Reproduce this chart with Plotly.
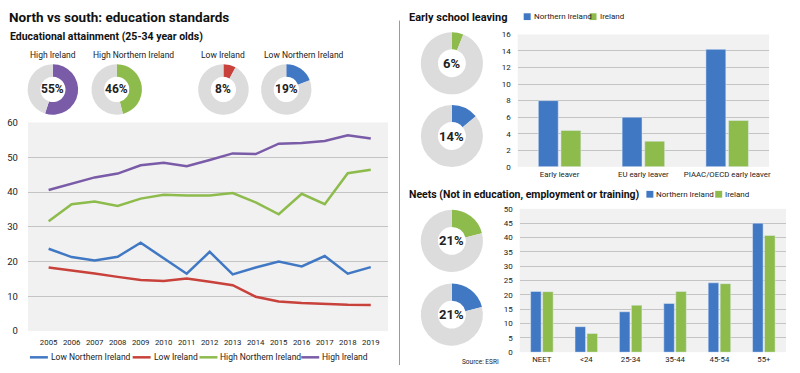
import plotly.graph_objects as go

FONT = "Roboto, sans-serif"
BLUE = "#4178c4"
GREEN = "#8dbb4c"
RED = "#c8413a"
PURPLE = "#7a5ba8"
GREY = "#dcdcdc"

# ---- data ----
years = list(range(2005, 2020))
low_ni = [23.7, 21.3, 20.3, 21.4, 25.4, 20.9, 16.5, 22.8, 16.3, 18.3, 20.0, 18.6, 21.6, 16.5, 18.4]
low_irl = [18.3, 17.5, 16.6, 15.6, 14.7, 14.4, 15.1, 14.2, 13.2, 9.9, 8.5, 8.1, 7.8, 7.6, 7.5]
high_ni = [31.6, 36.5, 37.3, 36.0, 38.1, 39.2, 39.0, 39.0, 39.7, 37.0, 33.6, 39.5, 36.5, 45.4, 46.4]
high_irl = [40.6, 42.3, 44.2, 45.3, 47.7, 48.4, 47.4, 49.2, 51.1, 50.9, 53.9, 54.1, 54.7, 56.3, 55.4]

donut_labels = ["High Ireland", "High Northern Ireland", "Low Ireland", "Low Northern Ireland"]
donut_values = [55, 46, 8, 19]

esl_cats = ["Early leaver", "EU early leaver", "PIAAC/OECD early leaver"]
esl_ni = [8.0, 6.0, 14.2]
esl_irl = [4.4, 3.1, 5.6]
esl_donuts = [6, 14]

neet_cats = ["NEET", "<24", "25-34", "35-44", "45-54", "55+"]
neet_ni = [21.2, 8.9, 14.1, 17.0, 24.2, 45.0]
neet_irl = [21.1, 6.5, 16.4, 21.2, 23.9, 40.7]
neet_donuts = [21, 21]

W, H = 800, 373


def px(x):
    return x / W


def py(y):
    return 1 - y / H


fig = go.Figure()
annotations = []
shapes = []

# ---- line chart ----
series = [("Low Northern Ireland", low_ni, BLUE), ("Low Ireland", low_irl, RED),
          ("High Northern Ireland", high_ni, GREEN), ("High Ireland", high_irl, PURPLE)]
for name, vals, col in series:
    fig.add_trace(go.Scatter(x=years, y=vals, name=name, mode="lines",
                             line=dict(color=col, width=2.5), xaxis="x", yaxis="y",
                             showlegend=False))

# custom line legend
leg_x = [30, 133, 200, 302]
for (name, _, col), lx in zip(series, leg_x):
    shapes.append(dict(type="line", xref="paper", yref="paper", x0=px(lx), x1=px(lx + 18),
                       y0=py(362), y1=py(362), line=dict(color=col, width=2.5)))
    annotations.append(dict(x=px(lx + 19), y=py(362), text=name, xanchor="left",
                            font=dict(size=8.5, color="#222", family=FONT)))

# ---- bar charts ----
fig.add_trace(go.Bar(x=esl_cats, y=esl_ni, name="Northern Ireland", marker_color=BLUE,
                     xaxis="x2", yaxis="y2", showlegend=False))
fig.add_trace(go.Bar(x=esl_cats, y=esl_irl, name="Ireland", marker_color=GREEN,
                     xaxis="x2", yaxis="y2", showlegend=False))
fig.add_trace(go.Bar(x=neet_cats, y=neet_ni, name="Northern Ireland", marker_color=BLUE,
                     xaxis="x3", yaxis="y3", showlegend=False))
fig.add_trace(go.Bar(x=neet_cats, y=neet_irl, name="Ireland", marker_color=GREEN,
                     xaxis="x3", yaxis="y3", showlegend=False))


def bar_legend(x0, x1, y):
    for lx, col, name in [(x0, BLUE, "Northern Ireland"), (x1, GREEN, "Ireland")]:
        shapes.append(dict(type="rect", xref="paper", yref="paper", x0=px(lx), x1=px(lx + 7),
                           y0=py(y + 3.5), y1=py(y - 3.5), fillcolor=col, line=dict(width=0)))
        annotations.append(dict(x=px(lx + 8), y=py(y), text=name, xanchor="left",
                                font=dict(size=8, color="#222", family=FONT)))


bar_legend(525, 591, 11)
bar_legend(648, 717, 194)


def donut(cx, cy, r, value, color, hole=0.5, fsize=13):
    fig.add_trace(go.Pie(values=[value, 100 - value], marker=dict(colors=[color, GREY]),
                         hole=hole, sort=False, direction="clockwise", rotation=0,
                         textinfo="none", showlegend=False, hoverinfo="percent",
                         domain=dict(x=[px(cx - r), px(cx + r)], y=[py(cy + r), py(cy - r)])))
    annotations.append(dict(x=px(cx), y=py(cy), text=f"<b>{value}%</b>", xanchor="center",
                            font=dict(size=fsize, color="#222", family=FONT)))


left_centres = [53, 117, 224, 287]
left_label_x = [28, 91, 199, 263]
left_colors = [PURPLE, GREEN, RED, BLUE]
for cx, lx, lab, v, c in zip(left_centres, left_label_x, donut_labels, donut_values, left_colors):
    donut(cx, 86, 26, v, c, hole=0.5, fsize=12)
    annotations.append(dict(x=px(lx), y=py(51), text=lab, xanchor="left",
                            font=dict(size=8.5, color="#222", family=FONT)))

donut(453, 59, 32, esl_donuts[0], GREEN, hole=0.45, fsize=13)
donut(453, 134, 32, esl_donuts[1], BLUE, hole=0.45, fsize=13)
donut(453, 242, 32, neet_donuts[0], GREEN, hole=0.45, fsize=13)
donut(453, 318, 32, neet_donuts[1], BLUE, hole=0.45, fsize=13)

# ---- text ----
annotations += [
    dict(x=px(7), y=py(11), text="<b>North vs south: education standards</b>", xanchor="left",
         font=dict(size=13.5, color="#111", family=FONT)),
    dict(x=px(8), y=py(31), text="<b>Educational attainment (25-34 year olds)</b>", xanchor="left",
         font=dict(size=10.5, color="#111", family=FONT)),
    dict(x=px(408), y=py(12), text="<b>Early school leaving</b>", xanchor="left",
         font=dict(size=11, color="#111", family=FONT)),
    dict(x=px(408), y=py(194), text="<b>Neets (Not in education, employment or training)</b>", xanchor="left",
         font=dict(size=10.5, color="#111", family=FONT)),
    dict(x=px(461), y=py(367), text="Source: ESRI", xanchor="left",
         font=dict(size=6.5, color="#222", family=FONT)),
]
for a in annotations:
    a.setdefault("xref", "paper")
    a.setdefault("yref", "paper")
    a.setdefault("showarrow", False)
    a.setdefault("yanchor", "middle")

tickfont = dict(size=9.5, color="#222", family=FONT)
xtickfont = dict(size=7.8, color="#222", family=FONT)
small_tick = dict(size=8, color="#222", family=FONT)
cat_tick = dict(size=7.8, color="#222", family=FONT)

shapes.append(dict(type="line", xref="paper", yref="paper", x0=px(400.5), x1=px(400.5), y0=py(370), y1=py(15),
                   line=dict(color="#9a9a9a", width=1)))

fig.update_layout(
    width=W, height=H, margin=dict(l=0, r=0, t=0, b=0),
    paper_bgcolor="white", plot_bgcolor="#f1f1f1",
    font=dict(family=FONT, color="#222"),
    barmode="group", showlegend=False,
    annotations=annotations, shapes=shapes,
    xaxis=dict(domain=[px(28), px(389)], anchor="y", range=[2004.1, 2019.75], tickvals=years,
               showgrid=False, zeroline=False, showline=False, tickfont=xtickfont, ticks="",
               tickangle=0, ticklabelstandoff=5),
    yaxis=dict(domain=[py(335), py(120)], anchor="x", range=[0, 60], dtick=10, showgrid=True,
               gridcolor="#c4c4c4", gridwidth=1, zeroline=False, tickfont=tickfont, ticks="",
               ticklabelstandoff=9),
    xaxis2=dict(domain=[px(519), px(771)], anchor="y2", showgrid=False, tickfont=cat_tick, ticks="",
                tickangle=0, ticklabelstandoff=1),
    yaxis2=dict(domain=[py(165.7), py(29.3)], anchor="x2", range=[0, 16], dtick=2, gridcolor="#c4c4c4",
                zeroline=False, tickfont=small_tick, ticks="", ticklabelstandoff=6),
    xaxis3=dict(domain=[px(521), px(788)], anchor="y3", showgrid=False, tickfont=cat_tick, ticks="",
                tickangle=0, ticklabelstandoff=1),
    yaxis3=dict(domain=[py(356.7), py(209)], anchor="x3", range=[0, 50], dtick=5, gridcolor="#c4c4c4",
                zeroline=False, tickfont=small_tick, ticks="", ticklabelstandoff=6),
    bargap=0.46, bargroupgap=0.12,
)

fig.write_html("out.html", config={"displayModeBar": False},
               post_script="document.body.style.margin='0';document.body.style.overflow='hidden';")
